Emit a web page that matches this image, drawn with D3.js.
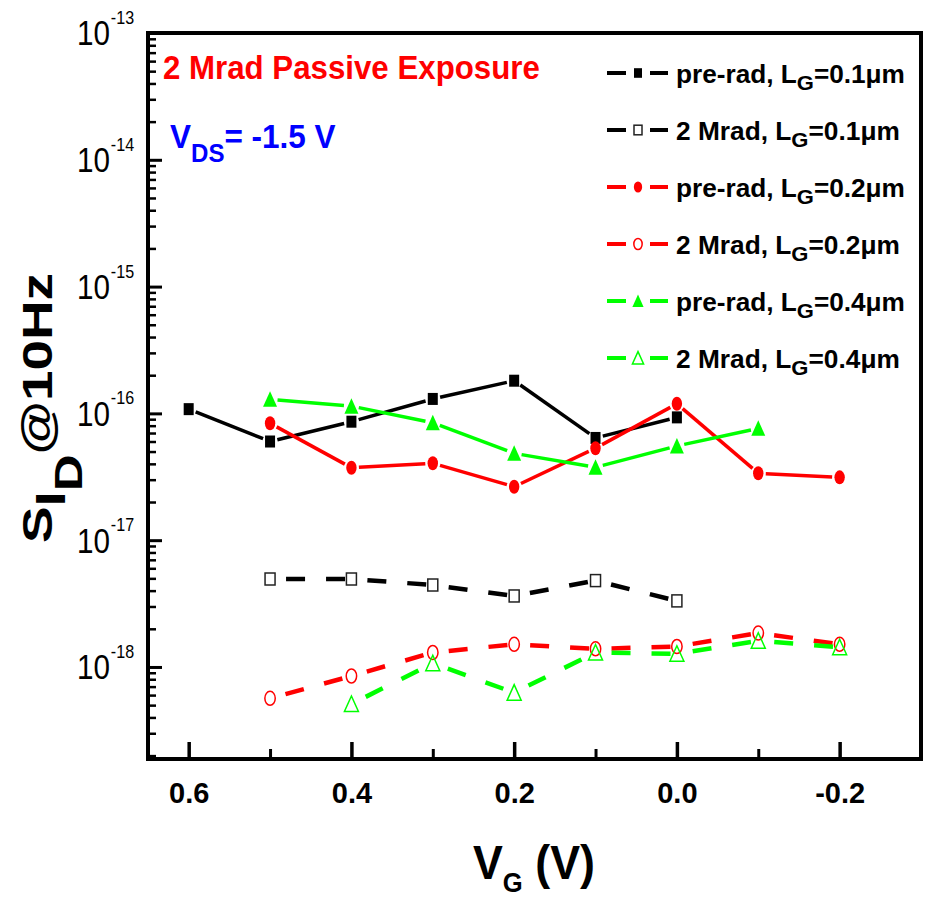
<!DOCTYPE html>
<html>
<head>
<meta charset="utf-8">
<script src="https://cdn.jsdelivr.net/npm/d3@7"></script>
<style>
  body { margin: 0; background: #fff; }
  svg { display: block; }
</style>
</head>
<body>
<svg id="chart" width="926" height="899"></svg>
<script>
// ---- Data: drain-current noise S_ID at 10 Hz (A^2/Hz) vs gate voltage V_G (V) ----
const vgPre01  = [0.6, 0.5, 0.4, 0.3, 0.2, 0.1, 0.0];
const preRad01 = [1.08e-16, 6.0e-17, 8.6e-17, 1.30e-16, 1.81e-16, 6.4e-17, 9.3e-17];

const vgRad01  = [0.5, 0.4, 0.3, 0.2, 0.1, 0.0];
const mrad01   = [4.94e-18, 4.94e-18, 4.43e-18, 3.63e-18, 4.80e-18, 3.32e-18];

const vgPre02  = [0.5, 0.4, 0.3, 0.2, 0.1, 0.0, -0.1, -0.2];
const preRad02 = [8.35e-17, 3.73e-17, 4.04e-17, 2.64e-17, 5.31e-17, 1.19e-16, 3.37e-17, 3.13e-17];

const vgRad02  = [0.5, 0.4, 0.3, 0.2, 0.1, 0.0, -0.1, -0.2];
const mrad02   = [5.66e-19, 8.49e-19, 1.30e-18, 1.51e-18, 1.39e-18, 1.45e-18, 1.85e-18, 1.51e-18];

const vgPre04  = [0.5, 0.4, 0.3, 0.2, 0.1, 0.0, -0.1];
const preRad04 = [1.29e-16, 1.14e-16, 8.45e-17, 4.84e-17, 3.76e-17, 5.53e-17, 7.62e-17];

const vgRad04  = [0.4, 0.3, 0.2, 0.1, 0.0, -0.1, -0.2];
const mrad04   = [5.1e-19, 1.07e-18, 6.27e-19, 1.30e-18, 1.27e-18, 1.61e-18, 1.43e-18];

const xMajorTicks = [0.6, 0.4, 0.2, 0.0, -0.2];
const xMinorTicks = [0.5, 0.3, 0.1, -0.1];
const yDecadeExps = [-13, -14, -15, -16, -17, -18];

const legendConds = ["pre-rad, L", "2 Mrad, L", "pre-rad, L", "2 Mrad, L", "pre-rad, L", "2 Mrad, L"];
const legendLg    = ["=0.1\u03bcm", "=0.1\u03bcm", "=0.2\u03bcm", "=0.2\u03bcm", "=0.4\u03bcm", "=0.4\u03bcm"];

const series = [
  { vg: vgPre01, v: preRad01, color: "#000000", shape: "square",   filled: true,  dashed: false },
  { vg: vgRad01, v: mrad01,   color: "#000000", shape: "square",   filled: false, dashed: true  },
  { vg: vgPre02, v: preRad02, color: "#ff0000", shape: "circle",   filled: true,  dashed: false },
  { vg: vgRad02, v: mrad02,   color: "#ff0000", shape: "circle",   filled: false, dashed: true  },
  { vg: vgPre04, v: preRad04, color: "#00ff00", shape: "triangle", filled: true,  dashed: false },
  { vg: vgRad04, v: mrad04,   color: "#00ff00", shape: "triangle", filled: false, dashed: true  }
];

// ---- Layout ----
const FONT = "'Liberation Sans', Arial, Helvetica, sans-serif";
const L = 148, R = 921, T = 33, B = 759;
const svg = d3.select("#chart").style("font-family", FONT);

const x = d3.scaleLinear().domain([0.65, -0.3]).range([L, R]);
const y = d3.scaleLog().domain([1.88e-19, 1e-13]).range([B, T]);

// stretch/squeeze a text horizontally about x0 so that it spans targetW
function fitWidth(sel, x0, targetW) {
  const w = sel.node().getBBox().width;
  const k = targetW / w;
  sel.attr("transform", `translate(${x0},0) scale(${k},1) translate(${-x0},0)`);
}

// ---- Axes ticks (inward) ----
function styleTicks(g, w) {
  g.select(".domain").remove();
  g.selectAll(".tick line").attr("stroke", "#000").attr("stroke-width", w);
}

svg.append("g").attr("transform", `translate(0,${B})`)
  .call(d3.axisBottom(x).tickValues(xMajorTicks).tickSize(-17).tickPadding(23)
        .tickFormat(d => d.toFixed(1)))
  .call(g => styleTicks(g, 3.5))
  .call(g => g.selectAll(".tick text")
      .attr("font-family", FONT).attr("font-size", 29).attr("font-weight", "bold").attr("fill", "#000"));

svg.append("g").attr("transform", `translate(0,${B})`)
  .call(d3.axisBottom(x).tickValues(xMinorTicks).tickSize(-10).tickFormat(""))
  .call(g => styleTicks(g, 3));

const yMajor = yDecadeExps.map(e => Math.pow(10, e));
const yMinor = [];
for (let e = -19; e <= -14; e++) {
  for (let m = 2; m <= 9; m++) {
    const v = m * Math.pow(10, e);
    if (v > 1.9e-19 && v < 1e-13) yMinor.push(v);
  }
}

svg.append("g").attr("transform", `translate(${L},0)`)
  .call(d3.axisLeft(y).tickValues(yMajor).tickSize(-14).tickFormat(""))
  .call(g => styleTicks(g, 3));

svg.append("g").attr("transform", `translate(${L},0)`)
  .call(d3.axisLeft(y).tickValues(yMinor).tickSize(-8).tickFormat(""))
  .call(g => styleTicks(g, 2.5));

// y tick labels: 10^n
yDecadeExps.forEach(e => {
  const ty = y(Math.pow(10, e));
  const g = svg.append("g");
  const base = g.append("text").attr("x", 110).attr("y", ty + 12.5)
    .attr("text-anchor", "end").attr("font-size", 35).attr("fill", "#000").text("10");
  g.append("text").attr("x", 111).attr("y", ty - 9)
    .attr("font-size", 19).attr("fill", "#000").text(String(e));
  const w = base.node().getBBox().width;
  const k = 33 / w;
  g.attr("transform", `translate(110,0) scale(${k},1) translate(-110,0)`);
});

// ---- Frame ----
svg.append("rect").attr("x", L).attr("y", T).attr("width", R - L).attr("height", B - T)
  .attr("fill", "none").attr("stroke", "#000").attr("stroke-width", 4);

// ---- Markers ----
function drawMarker(g, s, cx, cy, sc) {
  let m;
  if (s.shape === "square") {
    m = g.append("rect").attr("x", cx - 5 * sc).attr("y", cy - 6 * sc)
      .attr("width", 10 * sc).attr("height", 12 * sc);
  } else if (s.shape === "circle") {
    m = g.append("ellipse").attr("cx", cx).attr("cy", cy).attr("rx", 5.2 * sc).attr("ry", 7 * sc);
  } else {
    m = g.append("path").attr("d",
      `M${cx},${cy - 8 * sc} L${cx + 7 * sc},${cy + 7.5 * sc} L${cx - 7 * sc},${cy + 7.5 * sc} Z`);
  }
  if (s.filled) {
    m.attr("fill", s.color).attr("stroke", "none");
  } else {
    m.attr("fill", "none").attr("stroke", s.shape === "square" ? "#222" : s.color)
      .attr("stroke-width", 1.5);
  }
}

// ---- Series ----
const plot = svg.append("g");
series.forEach(s => {
  const g = plot.append("g");
  const pts = s.vg.map((d, i) => [x(d), y(s.v[i])]);
  for (let i = 0; i < pts.length - 1; i++) {
    const [x1, y1] = pts[i], [x2, y2] = pts[i + 1];
    const dx = x2 - x1, dy = y2 - y1, len = Math.hypot(dx, dy);
    const ux = dx / len, uy = dy / len;
    if (s.dashed) {
      g.append("line")
        .attr("x1", x1).attr("y1", y1)
        .attr("x2", x2 - ux * 6).attr("y2", y2 - uy * 6)
        .attr("stroke", s.color).attr("stroke-width", 4.5)
        .attr("stroke-dasharray", "19 21").attr("stroke-dashoffset", 24);
    } else {
      const gap = 7.5;
      g.append("line")
        .attr("x1", x1 + ux * gap).attr("y1", y1 + uy * gap)
        .attr("x2", x2 - ux * gap).attr("y2", y2 - uy * gap)
        .attr("stroke", s.color).attr("stroke-width", 3.5);
    }
  }
  pts.forEach(p => drawMarker(g, s, p[0], p[1], 1));
});

// ---- Legend ----
series.forEach((s, i) => {
  const cy = 73 + i * 57;
  const g = svg.append("g");
  g.append("line").attr("x1", 607).attr("x2", 626).attr("y1", cy).attr("y2", cy)
    .attr("stroke", s.color).attr("stroke-width", 4);
  g.append("line").attr("x1", 650).attr("x2", 668).attr("y1", cy).attr("y2", cy)
    .attr("stroke", s.color).attr("stroke-width", 4);
  drawMarker(g, s, 638, cy, 0.8);
  const t = g.append("text").attr("x", 676).attr("y", cy + 10)
    .attr("font-size", 25).attr("font-weight", "bold").attr("fill", "#000");
  t.append("tspan").text(legendConds[i]);
  t.append("tspan").attr("font-size", 21).attr("dy", 7).text("G");
  t.append("tspan").attr("dy", -7).text(legendLg[i]);
  fitWidth(t, 676, s.filled ? 229 : 224);
});

// ---- Annotations ----
const title = svg.append("text").attr("x", 163).attr("y", 79)
  .attr("font-size", 34).attr("font-weight", "bold").attr("fill", "#ff0000")
  .text("2 Mrad Passive Exposure");
fitWidth(title, 163, 377);

const vds = svg.append("text").attr("x", 170).attr("y", 148)
  .attr("font-size", 34).attr("font-weight", "bold").attr("fill", "#0000ff");
vds.append("tspan").text("V");
vds.append("tspan").attr("font-size", 26).attr("dy", 14).text("DS");
vds.append("tspan").attr("dy", -14).text("= -1.5 V");
fitWidth(vds, 170, 166);

// x-axis title
const xt = svg.append("text").attr("x", 473).attr("y", 879)
  .attr("font-size", 49).attr("font-weight", "bold").attr("fill", "#000");
xt.append("tspan").text("V");
xt.append("tspan").attr("font-size", 28).attr("dy", 13).text("G");
xt.append("tspan").attr("dy", -13).text(" (V)");
fitWidth(xt, 473, 122);

// y-axis title (rotated)
const ytG = svg.append("g").attr("transform", "translate(52,543) rotate(-90)");
const yt = ytG.append("text").attr("x", 0).attr("y", 0)
  .attr("font-size", 42).attr("font-weight", "bold").attr("fill", "#000");
yt.append("tspan").text("S");
yt.append("tspan").attr("dy", 13).text("I");
yt.append("tspan").attr("font-size", 39).attr("dy", 17).text("D");
yt.append("tspan").attr("dy", -30).text("@10Hz");
{
  const w = yt.node().getBBox().width;
  yt.attr("transform", `scale(${270 / w},1)`);
}
</script>
</body>
</html>
